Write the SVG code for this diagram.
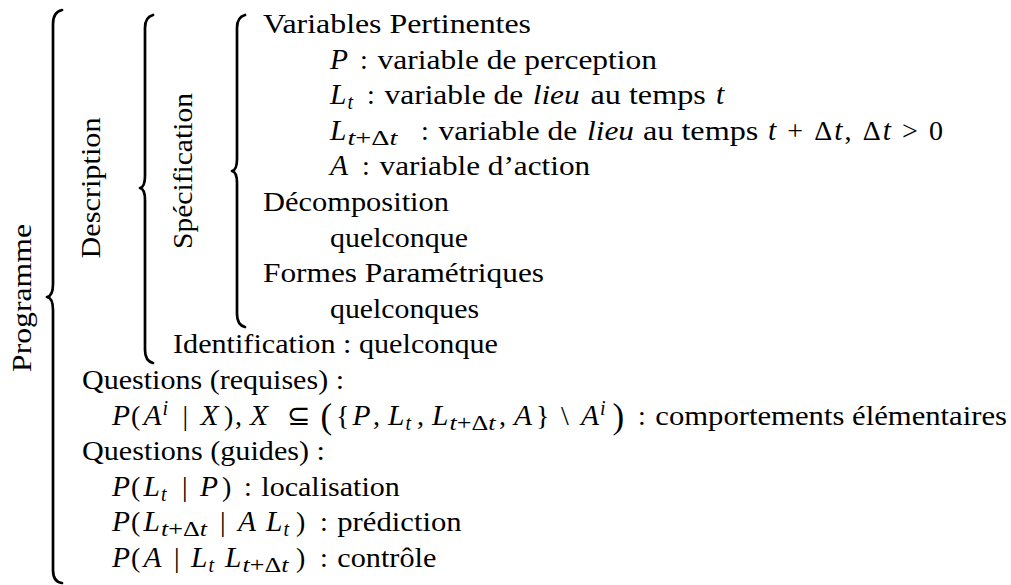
<svg xmlns="http://www.w3.org/2000/svg" width="1011" height="585" viewBox="0 0 1011 585">
<style>
text{font-family:'Liberation Serif','Times New Roman',serif;font-size:28px;fill:#000}
.i{font-style:italic}
.m{font-style:italic;font-size:29.5px}
.s{font-size:20px}
.b{font-size:35px}
.br{fill:none;stroke:#000;stroke-width:2.7;stroke-linecap:round;stroke-linejoin:round}
</style>
<rect width="1011" height="585" fill="#fff"/>
<g id="connectors">
<path class="br" d="M62,10 Q53,12 53,24 L53,284 Q53,296 47,297 Q53,298 53,310 L53,570 Q53,582 62,583"/>
<path class="br" d="M153,15 Q145,17 145,28 L145,176 Q145,187 140,188 Q145,189 145,200 L145,350 Q145,361 153,363"/>
<path class="br" d="M245,15 Q237,17 237,28 L237,159 Q237,170 232,171 Q237,172 237,183 L237,314 Q237,325 245,327"/>
</g>
<g id="programme"><text transform="translate(31,298) rotate(-90)" text-anchor="middle" textLength="148" lengthAdjust="spacingAndGlyphs">Programme</text></g>
<g id="description"><text transform="translate(100,188) rotate(-90)" text-anchor="middle" textLength="141" lengthAdjust="spacingAndGlyphs">Description</text></g>
<g id="specification"><text transform="translate(192,171) rotate(-90)" text-anchor="middle" textLength="156" lengthAdjust="spacingAndGlyphs">Spécification</text></g>
<g id="variables">
<text x="263" y="33" textLength="268" lengthAdjust="spacingAndGlyphs">Variables Pertinentes</text>
<text x="330" y="68.6" class="m">P</text><text x="360" y="68.6">:</text><text x="377.6" y="68.6" textLength="279.4" lengthAdjust="spacingAndGlyphs">variable de perception</text>
<text x="330" y="104.2" class="m">L</text><text x="347.5" y="109.2" class="i s">t</text><text x="367" y="104.2">:</text><text x="384.6" y="104.2" textLength="138.5" lengthAdjust="spacingAndGlyphs">variable de</text><text x="532.7" y="104.2" class="i" textLength="47" lengthAdjust="spacingAndGlyphs">lieu</text><text x="590.5" y="104.2" textLength="115.3" lengthAdjust="spacingAndGlyphs">au temps</text><text x="716" y="104.2" class="m">t</text>
<text x="330" y="139.8" class="m">L</text><text x="347.5" y="144.8" class="s" textLength="50" lengthAdjust="spacingAndGlyphs"><tspan class="i">t</tspan>+Δ<tspan class="i">t</tspan></text><text x="421" y="139.8">:</text><text x="438.6" y="139.8" textLength="138.5" lengthAdjust="spacingAndGlyphs">variable de</text><text x="587" y="139.8" class="i" textLength="47" lengthAdjust="spacingAndGlyphs">lieu</text><text x="643" y="139.8" textLength="115.3" lengthAdjust="spacingAndGlyphs">au temps</text>
<text x="768" y="139.8" textLength="175" lengthAdjust="spacing"><tspan class="m">t</tspan> + Δ<tspan class="m">t</tspan>, Δ<tspan class="m">t</tspan> &gt; 0</text>
<text x="330" y="175.4" class="m">A</text><text x="362" y="175.4">:</text><text x="379.6" y="175.4" textLength="210.5" lengthAdjust="spacingAndGlyphs">variable d’action</text>
</g>
<g id="decomposition">
<text x="263" y="211" textLength="186" lengthAdjust="spacingAndGlyphs">Décomposition</text>
<text x="330" y="246.6" textLength="138" lengthAdjust="spacingAndGlyphs">quelconque</text>
</g>
<g id="formes">
<text x="263" y="282.2" textLength="281" lengthAdjust="spacingAndGlyphs">Formes Paramétriques</text>
<text x="330" y="317.8" textLength="149" lengthAdjust="spacingAndGlyphs">quelconques</text>
</g>
<g id="identification">
<text x="173" y="353.4" textLength="325" lengthAdjust="spacingAndGlyphs">Identification : quelconque</text>
</g>
<g id="questions-requises">
<text x="82" y="389" textLength="262" lengthAdjust="spacingAndGlyphs">Questions (requises) :</text>
<text x="112" y="424.6" class="m">P</text><text x="131" y="424.6">(</text><text x="143.5" y="424.6" class="m">A</text><text x="162.5" y="414.6" class="i s">i</text><text x="182.5" y="424.6">|</text><text x="200.5" y="424.6" class="m">X</text><text x="224" y="424.6">)</text><text x="235" y="424.6">,</text><text x="250" y="424.6" class="m">X</text><text x="287" y="424.6">⊆</text>
<text x="320.5" y="427.6" class="b">(</text><text x="336" y="424.6">{</text><text x="352.5" y="424.6" class="m">P</text><text x="373" y="424.6">,</text><text x="388" y="424.6" class="m">L</text><text x="405.5" y="429.6" class="i s">t</text><text x="417" y="424.6">,</text><text x="432" y="424.6" class="m">L</text><text x="449.5" y="429.6" class="s" textLength="46" lengthAdjust="spacingAndGlyphs"><tspan class="i">t</tspan>+Δ<tspan class="i">t</tspan></text><text x="499" y="424.6">,</text><text x="514" y="424.6" class="m">A</text><text x="536" y="424.6">}</text><text x="561" y="424.6">\</text><text x="581" y="424.6" class="m">A</text><text x="600" y="414.6" class="i s">i</text><text x="612.5" y="427.6" class="b">)</text>
<text x="638" y="424.6">:</text><text x="655.3" y="424.6" textLength="351.7" lengthAdjust="spacingAndGlyphs">comportements élémentaires</text>
</g>
<g id="questions-guides">
<text x="82" y="460.2" textLength="243" lengthAdjust="spacingAndGlyphs">Questions (guides) :</text>
<text x="112" y="495.8" class="m">P</text><text x="131" y="495.8">(</text><text x="143.5" y="495.8" class="m">L</text><text x="161" y="500.8" class="i s">t</text><text x="182" y="495.8">|</text><text x="200" y="495.8" class="m">P</text><text x="222" y="495.8">)</text><text x="244" y="495.8">:</text><text x="261.3" y="495.8" textLength="138.5" lengthAdjust="spacingAndGlyphs">localisation</text>
<text x="112" y="531.4" class="m">P</text><text x="131" y="531.4">(</text><text x="143.5" y="531.4" class="m">L</text><text x="161" y="536.4" class="s" textLength="46" lengthAdjust="spacingAndGlyphs"><tspan class="i">t</tspan>+Δ<tspan class="i">t</tspan></text><text x="220" y="531.4">|</text><text x="238" y="531.4" class="m">A</text><text x="266" y="531.4" class="m">L</text><text x="283.5" y="536.4" class="i s">t</text><text x="296" y="531.4">)</text><text x="320" y="531.4">:</text><text x="337.3" y="531.4" textLength="124.3" lengthAdjust="spacingAndGlyphs">prédiction</text>
<text x="112" y="567" class="m">P</text><text x="131" y="567">(</text><text x="143.5" y="567" class="m">A</text><text x="174" y="567">|</text><text x="191" y="567" class="m">L</text><text x="208.5" y="572" class="i s">t</text><text x="225" y="567" class="m">L</text><text x="242.5" y="572" class="s" textLength="46" lengthAdjust="spacingAndGlyphs"><tspan class="i">t</tspan>+Δ<tspan class="i">t</tspan></text><text x="296" y="567">)</text><text x="320" y="567">:</text><text x="337.3" y="567" textLength="99.1" lengthAdjust="spacingAndGlyphs">contrôle</text>
</g>
</svg>
